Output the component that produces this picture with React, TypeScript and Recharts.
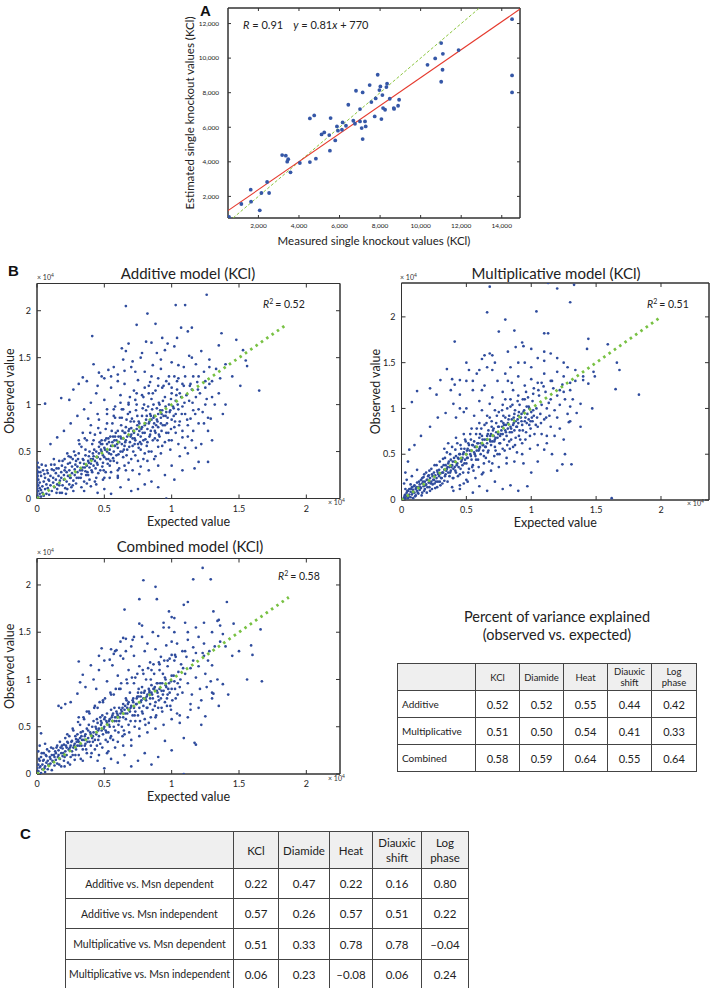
import React from 'react';
import { ScatterChart, Scatter, XAxis, YAxis, ReferenceArea } from 'recharts';

type Pair = [number, number];

const FONT = 'Lato, "Open Sans", "DejaVu Sans", sans-serif';
const AXIS = '#333';
const DOT = '#2f4c9d';
const GREEN = '#78c143';
const RED = '#e5392d';

// ---------- Panel A: measured vs estimated single knockout values ----------
const A_POINTS: Pair[] = [
  [550, 809], [1159, 1560], [1620, 2389], [1637, 1695], [2066, 1194], [2148, 2196], [2428, 2832], [2527, 2196],
  [3170, 4393], [3351, 4354], [3470, 4150], [3420, 4010], [3582, 3391], [4043, 3931], [4538, 6513], [4752, 6686],
  [4538, 3988], [4834, 4181], [5114, 5588], [5246, 5703], [5493, 5549], [5526, 4643], [5559, 6532], [5790, 5241],
  [5872, 6050], [5922, 5800], [6120, 5857], [6153, 6281], [6317, 6088], [6433, 7303], [6680, 6377], [6762, 6204],
  [6812, 8112], [7010, 7052], [7010, 6339], [7092, 5954], [7141, 5318], [7141, 8016], [7257, 6339], [7290, 6050],
  [7487, 8440], [7570, 7457], [7735, 6628], [7784, 7669], [7883, 9037], [7966, 8151], [8015, 8363], [8065, 6474],
  [8114, 7861], [8147, 7110], [8246, 7014], [8312, 8324], [8345, 8517], [8477, 7649], [8675, 7110], [8690, 7060],
  [8888, 7245], [8938, 7592], [10339, 9615], [10718, 9981], [11014, 10868], [11014, 8632], [11080, 9326],
  [11097, 10251], [11871, 10463], [14508, 12255], [14508, 8998], [14508, 8016],
];
const A_X_TICKS = [2000, 4000, 6000, 8000, 10000, 12000, 14000];
const A_Y_TICKS = [2000, 4000, 6000, 8000, 10000, 12000];
const A_X_DOMAIN: [number, number] = [500, 14900];
const A_Y_DOMAIN: [number, number] = [750, 12900];
const A_FIT = { slope: 0.81, intercept: 770, r: '0.91' };

// ---------- Panel B: observed vs expected (x 10^4) ----------
const B_TICKS = [0, 0.5, 1, 1.5, 2];

const ADDITIVE: Pair[] = [
  [0,0.01],[0,0.04],[0,0.07],[0,0.1],[0,0.13],[0,0.16],[0,0.19],[0,0.22],[0,0.26],[0,0.3],[0,0.34],[0.01,0.02],[0.01,0.08],[0.01,0.14],[0.01,0.2],[0.01,0.28],[0.02,0.05],[0.02,0.11],[0.02,0.17],[0.03,0.02],[0.03,0.09],[0.03,0.24],[0.04,0.13],[0.04,0.06],[0.05,0.18],[0.05,0.03],[0.06,0.1],[0.06,0.22],[0.07,0.05],[0.07,0.15],[0.08,0.27],[0.08,0.11],[0.09,0.19],[0.09,0.04],[0.1,0.14],[0.1,0.24],[0.11,0.08],[0.11,0.31],[0.12,0.17],[0.12,0.22],[0.13,0.12],[0.13,0.36],[0.14,0.2],[0.14,0.27],[0.15,0.1],[0.15,0.15],[0.16,0.24],[0.16,0.32],[0.17,0.19],[0.17,0.06],[0.18,0.28],[0.18,0.22],[0.19,0.14],[0.19,0.4],[0.2,0.25],[0.2,0.2],[0.21,0.33],[0.21,0.11],[0.22,0.28],[0.22,0.18],[0.23,0.37],[0.23,0.24],[0.24,0.15],[0.24,0.3],[0.25,0.22],[0.25,0.44],[0.26,0.27],[0.26,0.34],[0.27,0.19],[0.27,0.08],[0.28,0.31],[0.28,0.25],[0.29,0.4],[0.29,0.16],[0.3,0.28],
  [0.3,0.34],[0.31,0.22],[0.31,0.48],[0.32,0.3],[0.32,0.38],[0.33,0.26],[0.33,0.55],[0.34,0.33],[0.34,0.42],[0.35,0.18],[0.35,0.37],[0.36,0.29],[0.36,0.46],[0.37,0.35],[0.37,0.62],[0.38,0.4],[0.38,0.25],[0.39,0.33],[0.39,0.5],[0.4,0.42],[0.4,0.37],[0.41,0.28],[0.41,0.58],[0.42,0.45],[0.42,0.35],[0.43,0.4],[0.43,0.68],[0.44,0.5],[0.44,0.22],[0.45,0.44],[0.45,0.36],[0.46,0.55],[0.46,0.48],[0.47,0.3],[0.47,0.42],[0.48,0.62],[0.48,0.5],[0.49,0.38],[0.49,0.46],[0.5,0.54],[0.5,0.44],[0.51,0.74],[0.51,0.28],[0.52,0.5],[0.52,0.58],[0.53,0.42],[0.53,0.64],[0.54,0.52],[0.54,0.35],[0.55,0.56],[0.55,0.47],[0.56,0.8],[0.56,0.6],[0.57,0.5],[0.57,0.4],[0.58,0.66],[0.58,0.56],[0.59,0.46],[0.59,0.62],[0.6,0.54],[0.6,0.72],
  [0.61,0.6],[0.61,0.32],[0.62,0.66],[0.62,0.5],[0.63,0.58],[0.63,0.86],[0.64,0.64],[0.64,0.44],[0.65,0.7],[0.65,0.56],[0.66,0.62],[0.66,0.76],[0.67,0.52],[0.67,0.66],[0.68,0.72],[0.68,0.38],[0.69,0.6],[0.69,0.92],[0.7,0.68],[0.7,0.75],[0.71,0.56],[0.71,0.64],[0.72,0.82],[0.72,0.7],[0.73,0.46],[0.73,0.62],[0.74,0.74],[0.74,1.0],[0.75,0.68],[0.75,0.58],[0.76,0.8],[0.76,0.72],[0.77,0.52],[0.77,0.66],[0.78,0.88],[0.78,0.76],[0.79,0.62],[0.79,0.42],[0.8,0.78],[0.8,0.7],[0.81,0.94],[0.81,0.84],[0.82,0.6],[0.82,0.74],[0.83,0.8],[0.83,0.5],[0.84,0.9],[0.84,0.68],[0.85,0.84],[0.85,1.06],[0.86,0.76],[0.86,0.62],[0.87,0.88],[0.87,0.8],[0.88,0.7],[0.88,0.45],[0.89,0.96],[0.89,0.84],[0.9,0.76],[0.9,0.9],
  [0.91,0.66],[0.91,1.0],[0.92,0.86],[0.92,0.8],[0.93,0.94],[0.93,0.56],[0.94,0.88],[0.95,0.78],[0.95,1.08],[0.96,0.92],[0.96,0.7],[0.97,0.86],[0.98,1.0],[0.98,0.62],[0.99,0.94],[1.0,0.84],[1.0,1.12],[1.01,0.98],[1.02,0.76],[1.03,1.04],[1.03,0.9],[1.04,1.16],[1.05,0.95],[1.06,0.82],[1.07,1.08],[1.08,0.98],[1.09,1.2],[1.1,0.9],[1.11,1.1],[1.12,0.78],[1.13,1.04],[1.15,1.16],[1.16,0.94],[1.18,1.08],[1.19,1.24],[1.21,1.12],[1.23,0.92],[1.25,1.18],[1.26,1.06],[1.28,1.22],
  [0.33,0.12],[0.36,0.52],[0.39,0.2],[0.42,0.62],[0.44,0.15],[0.47,0.7],[0.5,0.22],[0.52,0.8],[0.55,0.28],[0.58,0.86],[0.6,0.3],[0.63,0.95],[0.65,0.35],[0.68,1.0],[0.7,0.42],[0.73,1.05],[0.75,0.4],[0.78,1.1],[0.8,0.48],[0.83,1.12],[0.85,0.5],[0.88,1.15],[0.9,0.55],[0.93,1.18],[0.95,0.6],[0.98,1.22],[1.0,0.62],[1.03,0.7],[1.05,1.28],[1.08,0.72],
  [0.345,0.41],[0.365,0.25],[0.385,0.45],[0.405,0.3],[0.425,0.52],[0.445,0.38],[0.465,0.6],[0.485,0.34],[0.505,0.62],[0.525,0.37],[0.545,0.66],[0.565,0.43],[0.585,0.7],[0.605,0.47],[0.625,0.78],[0.645,0.52],[0.665,0.84],[0.685,0.55],[0.705,0.85],[0.725,0.58],[0.745,0.88],[0.765,0.6],[0.785,0.96],[0.805,0.63],[0.825,0.98],[0.845,0.72],[0.865,1.0],[0.885,0.78],[0.905,1.02],[0.925,0.72],
  [0.215,0.05],[0.235,0.45],[0.255,0.12],[0.275,0.5],[0.295,0.22],[0.315,0.58],[0.335,0.3],[0.355,0.64],[0.375,0.28],[0.395,0.7],[0.415,0.48],[0.435,0.32],[0.455,0.75],[0.475,0.52],[0.495,0.3],[0.515,0.64],[0.535,0.48],[0.555,0.72],[0.575,0.62],[0.595,0.38],[0.615,0.86],[0.635,0.72],[0.655,0.6],[0.675,0.9],[0.695,0.66],[0.715,0.5],[0.735,0.94],[0.755,0.82],[0.775,0.58],[0.795,1.0],[0.815,0.88],[0.835,0.66],[0.855,0.95],[0.875,0.72],[0.895,0.62],[0.915,0.94],[0.935,0.78],[0.955,0.98],[0.975,0.7],[0.995,1.06],[1.015,0.88],[1.035,1.1],[1.055,0.78],[1.075,0.9],[1.095,1.02],[1.115,0.84],[1.135,1.2],[1.155,1.02],[1.175,0.9],[1.195,1.16],
  [0.005,0.38],[0.005,0.24],[0.015,0.33],[0.025,0.28],[0.035,0.36],[0.045,0.3],[0.055,0.26],[0.065,0.35],[0.075,0.3],[0.085,0.2],[0.105,0.36],[0.125,0.42],[0.145,0.32],[0.165,0.4],[0.185,0.35],[0.205,0.42],[0.225,0.48],[0.245,0.38],[0.265,0.42],[0.285,0.46],
  [0.31,0.62],[0.34,0.7],[0.37,0.16],[0.4,0.78],[0.43,0.18],[0.46,0.84],[0.49,0.2],[0.52,0.9],[0.54,0.22],[0.57,0.95],[0.6,0.24],[0.62,1.02],[0.66,0.3],[0.69,1.08],[0.71,0.3],[0.74,1.12],[0.77,0.34],[0.8,1.18],[0.82,0.4],[0.84,1.24],[0.87,0.42],[0.9,1.2],[0.92,0.48],[0.96,1.25],[0.99,0.52],[1.02,1.3],[1.05,0.58],[1.08,1.22],[1.12,0.66],[1.16,1.3],
  [0.475,0.58],[0.505,0.52],[0.535,0.6],[0.565,0.66],[0.595,0.58],[0.625,0.64],[0.655,0.7],[0.685,0.74],[0.715,0.72],[0.745,0.78],[0.775,0.74],[0.805,0.8],[0.835,0.82],[0.865,0.86],[0.895,0.82],[0.925,0.9],[0.955,0.88],[0.985,0.92],[1.015,0.96],[1.045,1.0],
  [0.455,0.27],[0.485,0.58],[0.515,0.42],[0.545,0.4],[0.575,0.56],[0.605,0.66],[0.635,0.5],[0.665,0.46],[0.695,0.82],[0.725,0.64],[0.755,0.54],[0.785,0.7],[0.815,0.56],[0.845,0.88],[0.875,0.64],[0.905,0.68],[0.935,1.04],[0.965,0.8],[0.995,0.74],[1.025,0.82],
  [0.125,0.3],[0.145,0.06],[0.165,0.14],[0.185,0.06],[0.205,0.3],[0.225,0.1],[0.245,0.22],[0.265,0.14],[0.285,0.36],[0.305,0.42],[0.325,0.22],[0.355,0.33],[0.385,0.38],[0.415,0.42],[0.445,0.44],
  [0.55,1.3],[0.6,1.25],[0.7,1.4],[0.8,1.35],[0.92,1.48],[1.05,1.42],[1.15,1.5],[0.45,1.2],[0.65,1.36],[0.85,1.3],[1.25,1.25],[1.32,1.0],[1.38,0.9],[1.2,0.8],[1.28,1.4],
  [1.26,2.17],[0.66,2.05],[1.03,2.06],[1.1,2.06],[0.82,1.97],[0.74,1.85],[0.88,1.86],[1.07,1.82],[1.15,1.82],[1.12,1.78],[0.41,1.73],[1.37,1.76],[1.48,1.69],[1.35,1.63],[0.81,1.67],[0.85,1.66],[0.93,1.71],[0.97,1.65],[1.02,1.62],[1.04,1.71],[0.63,1.6],[0.66,1.57],[0.68,1.65],[0.95,1.58],[0.78,1.55],[0.89,1.55],[1.13,1.52],[1.22,1.57],[1.28,1.48],[1.53,1.58],[1.55,1.47],[1.56,1.41],[0.42,1.43],[0.53,1.37],[0.57,1.4],[0.64,1.48],[0.71,1.46],[0.77,1.5],[0.73,1.35],[0.86,1.42],[0.92,1.38],[1.0,1.45],[1.09,1.4],[1.18,1.43],[1.24,1.35],[1.33,1.38],[1.4,1.43],[0.48,1.3],[0.6,1.32],[0.37,1.25],[0.5,1.28],[0.46,1.34],[0.34,1.29],[0.31,1.22],[0.27,1.16],[0.18,1.07],[0.06,1.01],[0.24,1.05],[1.51,1.2],[1.65,1.15],[1.4,1.0],[1.45,1.3],[1.3,1.25],[1.36,1.28],
  [0.35,0.95],[0.4,1.02],[0.44,1.12],[0.5,1.05],[0.55,1.18],[0.58,0.98],[0.62,1.1],[0.65,1.22],[0.68,1.02],[0.72,1.15],[0.75,1.26],[0.79,1.08],[0.83,1.2],[0.86,1.12],[0.9,1.28],[0.94,1.2],[0.98,1.3],[1.0,1.18],[1.04,1.25],[1.06,1.12],[1.1,1.3],[1.14,1.22],[1.2,1.3],[0.3,0.88],[0.25,0.8],[0.2,0.72],[0.15,0.65],[0.1,0.58],[0.38,0.85],[0.45,0.9],[0.52,0.95],[0.57,0.88],[0.64,0.95],
  [1.2,0.39],[1.27,0.39],[1.17,0.32],[1.27,0.72],[1.27,0.86],[1.29,0.85],[1.18,0.54],[1.1,0.54],[1.06,0.45],[0.96,0.0],[0.9,0.12],[0.85,0.18],[0.8,0.15],[0.75,0.1],[0.7,0.08],[0.62,0.12],[0.55,0.05],[0.5,0.1],[0.45,0.06],[0.4,0.13],[0.35,0.08],[0.95,0.25],[1.0,0.35],[1.02,0.2],[1.08,0.3],[0.9,0.35],[0.83,0.3],[0.76,0.26],[0.68,0.2],[0.6,0.22],[1.15,0.62],[1.22,0.58],[1.12,0.48],[1.3,0.62],[1.24,0.8],[1.16,0.72],[1.3,1.08],[1.35,1.12],[1.2,0.95],[1.25,1.0],[1.14,0.85],[1.08,0.65],
];

const MULTIPLICATIVE: Pair[] = [
  [0.01,0.0],[0.02,0.03],[0.02,0.01],[0.03,0.06],[0.03,0.02],[0.04,0.08],[0.04,0.04],[0.05,0.1],[0.05,0.02],[0.06,0.06],[0.06,0.12],[0.07,0.03],[0.07,0.09],[0.08,0.14],[0.08,0.06],[0.09,0.11],[0.09,0.02],[0.1,0.08],[0.1,0.16],[0.11,0.12],[0.11,0.05],[0.12,0.1],[0.12,0.19],[0.13,0.14],[0.13,0.07],[0.14,0.17],[0.14,0.11],[0.15,0.22],[0.15,0.13],[0.16,0.08],[0.16,0.18],[0.17,0.15],[0.17,0.25],[0.18,0.12],[0.18,0.2],[0.19,0.17],[0.19,0.3],[0.2,0.22],[0.2,0.14],[0.21,0.19],[0.21,0.27],[0.22,0.24],[0.22,0.1],[0.23,0.2],[0.23,0.34],[0.24,0.26],[0.24,0.17],[0.25,0.22],[0.25,0.3],[0.26,0.13],[0.26,0.27],[0.27,0.24],[0.27,0.38],[0.28,0.3],[0.28,0.2],[0.29,0.26],[0.29,0.33],[0.3,0.16],[0.3,0.29],[0.05,0.42],[0.03,0.3],[0.08,0.26],[0.12,0.33],
  [0.31,0.36],[0.31,0.24],[0.32,0.3],[0.32,0.45],[0.33,0.33],[0.33,0.21],[0.34,0.38],[0.34,0.28],[0.35,0.34],[0.35,0.52],[0.36,0.3],[0.36,0.4],[0.37,0.26],[0.37,0.36],[0.38,0.44],[0.38,0.32],[0.39,0.38],[0.39,0.58],[0.4,0.34],[0.4,0.24],[0.41,0.42],[0.41,0.36],[0.42,0.48],[0.42,0.3],[0.43,0.4],[0.43,0.62],[0.44,0.45],[0.44,0.36],[0.45,0.5],[0.45,0.28],[0.46,0.42],[0.46,0.56],[0.47,0.46],[0.47,0.38],[0.48,0.52],[0.48,0.18],[0.49,0.44],[0.49,0.66],[0.5,0.5],[0.5,0.4],[0.51,0.56],[0.51,0.46],[0.52,0.34],[0.52,0.6],[0.53,0.5],[0.53,0.72],[0.54,0.54],[0.54,0.44],[0.55,0.6],[0.55,0.38],[0.56,0.52],[0.56,0.64],[0.57,0.48],[0.57,0.58],[0.58,0.78],[0.58,0.54],[0.59,0.44],[0.59,0.62],[0.6,0.56],[0.6,0.68],
  [0.61,0.5],[0.61,0.62],[0.62,0.7],[0.62,0.28],[0.63,0.6],[0.63,0.54],[0.64,0.66],[0.64,0.82],[0.65,0.58],[0.65,0.46],[0.66,0.7],[0.66,0.62],[0.67,0.76],[0.67,0.54],[0.68,0.66],[0.68,0.9],[0.69,0.6],[0.69,0.72],[0.7,0.4],[0.7,0.64],[0.71,0.78],[0.71,0.7],[0.72,0.58],[0.72,0.66],[0.73,0.84],[0.73,0.74],[0.74,0.5],[0.74,0.68],[0.75,0.8],[0.75,0.96],[0.76,0.7],[0.76,0.62],[0.77,0.76],[0.77,0.86],[0.78,0.56],[0.78,0.72],[0.79,0.82],[0.79,0.66],[0.8,0.9],[0.8,0.76],[0.81,0.46],[0.81,0.7],[0.82,0.84],[0.82,0.78],[0.83,0.92],[0.83,0.64],[0.84,0.8],[0.84,1.02],[0.85,0.74],[0.85,0.88],[0.86,0.58],[0.86,0.82],[0.87,0.94],[0.87,0.76],[0.88,0.86],[0.88,0.68],[0.89,0.8],[0.89,0.52],[0.9,0.92],[0.9,0.84],
  [0.91,1.04],[0.91,0.76],[0.92,0.9],[0.93,0.82],[0.93,0.62],[0.94,0.96],[0.95,0.86],[0.95,1.1],[0.96,0.74],[0.97,0.94],[0.98,0.88],[0.98,1.02],[0.99,0.7],[1.0,0.96],[1.01,1.08],[1.01,0.86],[1.02,0.92],[1.04,1.0],[1.05,0.8],[1.06,1.14],[1.07,0.94],[1.08,1.04],[1.1,0.88],[1.11,1.18],[1.12,1.0],[1.14,0.92],[1.15,1.1],[1.17,1.22],[1.18,0.98],[1.2,1.14],[1.22,1.04],[1.24,1.26],[1.26,1.1],[1.28,0.94],[1.3,1.2],
  [0.155,0.05],[0.175,0.28],[0.195,0.08],[0.215,0.32],[0.235,0.12],[0.255,0.38],[0.275,0.14],[0.295,0.42],[0.315,0.18],[0.335,0.46],[0.355,0.2],[0.375,0.5],[0.395,0.24],[0.415,0.55],[0.435,0.26],[0.455,0.6],[0.475,0.3],[0.495,0.64],[0.515,0.3],[0.535,0.66],[0.555,0.32],[0.575,0.72],[0.595,0.36],[0.615,0.78],[0.635,0.4],[0.655,0.84],[0.675,0.42],[0.695,0.86],[0.715,0.48],[0.735,0.92],[0.755,0.5],[0.775,0.98],[0.795,0.54],[0.815,1.0],[0.835,0.56],[0.855,1.04],[0.875,0.6],[0.895,1.08],[0.915,0.66],[0.935,1.1],[0.955,0.66],[0.975,1.12],[0.995,0.78],[1.015,1.16],[1.035,0.82],[1.055,1.2],[1.075,0.84],[1.095,1.24],[1.115,0.9],[1.135,1.06],
  [0.325,0.38],[0.345,0.32],[0.365,0.42],[0.385,0.36],[0.405,0.46],[0.425,0.38],[0.445,0.5],[0.465,0.44],[0.485,0.56],[0.505,0.46],[0.525,0.54],[0.545,0.6],[0.565,0.5],[0.585,0.62],[0.605,0.58],[0.625,0.66],[0.645,0.58],[0.665,0.72],[0.685,0.64],[0.705,0.76],[0.725,0.68],[0.745,0.8],[0.765,0.72],[0.785,0.84],[0.805,0.74],[0.825,0.88],[0.845,0.78],[0.865,0.9],[0.885,0.8],[0.905,0.96],[0.925,0.86],[0.945,0.98],[0.965,0.84],[0.985,1.0],[1.005,0.9],
  [0.025,0.05],[0.045,0.1],[0.055,0.04],[0.075,0.12],[0.085,0.08],[0.095,0.15],[0.105,0.04],[0.115,0.14],[0.125,0.08],[0.135,0.2],[0.145,0.14],[0.165,0.2],[0.185,0.16],[0.205,0.26],[0.225,0.18],[0.245,0.22],[0.265,0.2],[0.285,0.28],[0.305,0.24],[0.02,0.18],[0.04,0.22],[0.07,0.17],[0.03,0.12],
  [0.33,0.56],[0.36,0.62],[0.39,0.14],[0.42,0.68],[0.45,0.16],[0.48,0.72],[0.51,0.2],[0.54,0.78],[0.57,0.24],[0.6,0.84],[0.63,0.3],[0.66,0.92],[0.69,0.32],[0.72,0.98],[0.75,0.36],[0.78,1.04],[0.81,0.4],[0.84,1.1],[0.87,0.42],[0.9,1.14],[0.93,0.5],[0.96,1.18],[0.99,0.56],[1.02,1.22],[1.05,0.6],[1.08,1.28],[1.12,0.7],[1.16,1.3],[1.2,0.9],[1.25,1.18],
  [0.475,0.5],[0.505,0.54],[0.535,0.48],[0.565,0.58],[0.595,0.54],[0.625,0.6],[0.655,0.66],[0.685,0.7],[0.715,0.64],[0.745,0.72],[0.775,0.8],[0.805,0.82],[0.835,0.74],[0.865,0.84],[0.895,0.88],[0.925,0.94],[0.955,0.9],[0.985,0.82],[1.015,0.98],[1.045,0.9],
  [0.455,0.34],[0.485,0.4],[0.515,0.62],[0.545,0.36],[0.575,0.44],[0.605,0.72],[0.635,0.48],[0.665,0.52],[0.695,0.8],[0.725,0.54],[0.755,0.62],[0.785,0.92],[0.815,0.6],[0.845,0.66],[0.875,0.98],[0.905,0.7],[0.935,0.76],[0.965,1.02],[0.995,0.86],[1.025,0.72],
  [0.175,0.1],[0.195,0.22],[0.215,0.14],[0.235,0.28],[0.255,0.18],[0.275,0.32],[0.295,0.2],[0.315,0.3],[0.335,0.26],[0.355,0.36],[0.375,0.3],[0.395,0.42],[0.415,0.32],[0.435,0.46],[0.16,0.24],
  [0.55,1.3],[0.62,1.2],[0.7,1.42],[0.8,1.38],[0.9,1.5],[1.0,1.45],[1.1,1.52],[0.45,1.0],[0.6,1.42],[0.85,1.28],[1.22,1.2],[1.32,1.1],[1.38,0.8],[1.26,0.5],[1.34,1.3],
  [0.28,0.9],[0.22,0.8],[0.15,0.7],[0.1,0.6],[0.06,0.55],[0.34,0.95],[0.4,1.05],[0.45,1.15],[0.5,1.0],[0.55,1.2],[0.6,1.08],[0.64,1.25],[0.7,1.12],[0.74,1.3],[0.78,1.18],[0.82,1.3],[0.86,1.2],[0.9,1.35],[0.95,1.25],[1.0,1.32],[1.05,1.28],[1.1,1.38],[1.15,1.3],[1.2,1.4],[0.42,0.9],[0.48,0.96],[0.56,0.92],[0.62,0.98],[0.68,1.05],[0.8,1.1],[1.25,1.35],[1.3,1.28],[0.38,1.2],[0.5,1.3],[0.58,1.38],[0.66,1.45],[0.72,1.5],[0.84,1.45],[0.95,1.5],[1.05,1.55],[1.15,1.6],[1.25,1.5],[1.34,1.42],[1.4,1.35],
  [1.31,0.39],[1.24,0.39],[1.2,0.32],[1.29,0.85],[1.3,0.86],[1.16,0.5],[1.1,0.55],[1.05,0.42],[0.97,0.15],[1.62,0.02],[0.9,0.1],[0.84,0.16],[0.78,0.12],[0.72,0.2],[0.66,0.1],[0.6,0.15],[0.55,0.08],[0.5,0.22],[0.45,0.12],[0.4,0.1],[1.0,0.3],[0.94,0.4],[1.12,0.62],[1.18,0.7],[1.22,0.78],[1.35,0.95],[1.38,1.05],[1.3,1.02],[1.25,0.66],[1.15,0.8],[1.08,0.72],
  [0.68,2.33],[1.13,2.37],[1.2,2.31],[1.33,2.35],[1.3,2.16],[0.66,2.05],[1.04,2.06],[0.8,1.97],[0.75,1.84],[0.87,1.85],[0.41,1.73],[1.1,1.82],[1.13,1.82],[1.44,1.76],[1.59,1.7],[1.43,1.65],[0.93,1.72],[0.94,1.68],[0.88,1.67],[0.82,1.62],[0.68,1.6],[0.7,1.58],[0.64,1.58],[0.62,1.54],[0.5,1.5],[0.52,1.42],[0.35,1.43],[0.41,1.26],[0.45,1.31],[0.39,1.32],[0.22,1.22],[0.12,1.19],[0.27,1.15],[0.3,1.31],[0.08,1.07],[1.66,1.5],[1.68,1.42],[1.65,1.21],[1.83,1.15],[1.47,1.0],[1.49,1.35],[1.48,1.4],[1.44,1.27],[1.4,1.31],[1.0,1.65],[1.1,1.62],[1.2,1.55],[1.28,1.45],
];

const COMBINED: Pair[] = [
  [0,0.02],[0,0.06],[0.01,0.1],[0.01,0.03],[0.02,0.14],[0.02,0.07],[0.03,0.18],[0.03,0.01],[0.04,0.1],[0.04,0.05],[0.05,0.15],[0.05,0.22],[0.06,0.08],[0.06,0.02],[0.07,0.12],[0.07,0.19],[0.08,0.05],[0.08,0.14],[0.09,0.24],[0.09,0.09],[0.1,0.16],[0.1,0.11],[0.11,0.2],[0.11,0.04],[0.12,0.13],[0.12,0.27],[0.13,0.18],[0.13,0.09],[0.14,0.22],[0.14,0.15],[0.15,0.3],[0.15,0.11],[0.16,0.2],[0.16,0.25],[0.17,0.16],[0.17,0.34],[0.18,0.22],[0.18,0.08],[0.19,0.27],[0.19,0.19],[0.2,0.31],[0.2,0.14],[0.21,0.24],[0.21,0.38],[0.22,0.2],[0.22,0.28],[0.23,0.33],[0.23,0.12],[0.24,0.25],[0.24,0.4],[0.25,0.3],[0.25,0.18],[0.26,0.35],[0.26,0.24],[0.27,0.28],[0.27,0.46],[0.28,0.32],[0.28,0.15],[0.29,0.37],[0.29,0.26],[0.3,0.3],[0.3,0.42],[0.03,0.43],[0.06,0.32],
  [0.31,0.34],[0.31,0.2],[0.32,0.38],[0.32,0.52],[0.33,0.3],[0.33,0.4],[0.34,0.26],[0.34,0.45],[0.35,0.36],[0.35,0.58],[0.36,0.32],[0.36,0.42],[0.37,0.48],[0.37,0.22],[0.38,0.38],[0.38,0.46],[0.39,0.34],[0.39,0.64],[0.4,0.42],[0.4,0.3],[0.41,0.5],[0.41,0.38],[0.42,0.44],[0.42,0.56],[0.43,0.36],[0.43,0.26],[0.44,0.48],[0.44,0.42],[0.45,0.54],[0.45,0.7],[0.46,0.4],[0.46,0.48],[0.47,0.6],[0.47,0.32],[0.48,0.46],[0.48,0.54],[0.49,0.42],[0.49,0.76],[0.5,0.5],[0.5,0.58],[0.51,0.36],[0.51,0.46],[0.52,0.64],[0.52,0.54],[0.53,0.44],[0.53,0.24],[0.54,0.58],[0.54,0.5],[0.55,0.68],[0.55,0.4],[0.56,0.56],[0.56,0.62],[0.57,0.84],[0.57,0.5],[0.58,0.6],[0.58,0.46],[0.59,0.66],[0.59,0.56],[0.6,0.34],[0.6,0.62],
  [0.61,0.7],[0.61,0.56],[0.62,0.64],[0.62,0.9],[0.63,0.5],[0.63,0.66],[0.64,0.74],[0.64,0.6],[0.65,0.42],[0.65,0.68],[0.66,0.58],[0.66,0.8],[0.67,0.7],[0.67,0.64],[0.68,0.52],[0.68,0.76],[0.69,0.66],[0.69,0.86],[0.7,0.72],[0.7,0.3],[0.71,0.62],[0.71,0.78],[0.72,0.7],[0.72,0.96],[0.73,0.66],[0.73,0.56],[0.74,0.8],[0.74,0.74],[0.75,0.62],[0.75,0.86],[0.76,0.7],[0.76,0.48],[0.77,0.82],[0.77,0.76],[0.78,0.92],[0.78,0.66],[0.79,0.8],[0.79,0.72],[0.8,0.58],[0.8,0.88],[0.81,0.78],[0.81,1.0],[0.82,0.7],[0.82,0.84],[0.83,0.9],[0.83,0.54],[0.84,0.8],[0.84,0.74],[0.85,0.94],[0.85,0.86],[0.86,0.68],[0.86,0.8],[0.87,1.06],[0.87,0.9],[0.88,0.76],[0.88,0.6],[0.89,0.88],[0.89,0.96],[0.9,0.82],[0.9,0.7],
  [0.91,0.9],[0.91,1.1],[0.92,0.8],[0.93,0.96],[0.93,0.66],[0.94,0.88],[0.95,1.02],[0.95,0.76],[0.96,0.92],[0.97,1.14],[0.97,0.84],[0.98,0.96],[0.99,0.72],[1.0,1.04],[1.0,0.9],[1.02,1.2],[1.02,0.98],[1.03,0.8],[1.05,1.08],[1.06,0.92],[1.07,1.16],[1.08,0.86],[1.1,1.06],[1.11,1.24],[1.12,0.96],[1.14,1.12],[1.15,0.84],[1.16,1.2],[1.18,1.02],[1.2,1.14],[1.21,0.9],[1.23,1.28],[1.25,1.06],[1.27,1.2],[1.29,0.98],
  [0.205,0.08],[0.225,0.42],[0.245,0.1],[0.265,0.48],[0.285,0.2],[0.305,0.55],[0.325,0.16],[0.345,0.6],[0.365,0.26],[0.385,0.66],[0.405,0.22],[0.425,0.7],[0.445,0.3],[0.465,0.76],[0.485,0.28],[0.505,0.8],[0.525,0.34],[0.545,0.86],[0.565,0.36],[0.585,0.9],[0.605,0.44],[0.625,0.96],[0.645,0.46],[0.665,1.0],[0.685,0.44],[0.705,1.02],[0.725,0.5],[0.745,1.06],[0.765,0.56],[0.785,1.1],[0.805,0.52],[0.825,1.12],[0.845,0.6],[0.865,1.16],[0.885,0.62],[0.905,1.18],[0.925,0.7],[0.945,1.2],[0.965,0.72],[0.985,1.22],[1.005,0.78],[1.025,1.26],[1.045,0.84],[1.065,1.0],[1.085,1.12],
  [0.315,0.3],[0.335,0.36],[0.355,0.4],[0.375,0.34],[0.395,0.44],[0.415,0.4],[0.435,0.5],[0.455,0.46],[0.475,0.52],[0.495,0.48],[0.515,0.56],[0.535,0.52],[0.555,0.6],[0.575,0.56],[0.595,0.64],[0.615,0.6],[0.635,0.7],[0.655,0.64],[0.675,0.74],[0.695,0.7],[0.715,0.8],[0.735,0.74],[0.755,0.82],[0.775,0.78],[0.795,0.86],[0.815,0.82],[0.835,0.88],[0.855,0.84],[0.875,0.92],[0.895,0.86],[0.915,0.96],[0.935,0.84],[0.955,0.94],[0.975,0.9],[0.995,0.98],
  [0.015,0.16],[0.025,0.08],[0.035,0.22],[0.045,0.14],[0.055,0.06],[0.065,0.2],[0.075,0.26],[0.085,0.1],[0.095,0.18],[0.105,0.28],[0.115,0.14],[0.135,0.24],[0.155,0.18],[0.175,0.28],[0.195,0.22],[0.215,0.3],[0.235,0.26],[0.255,0.34],[0.275,0.3],[0.295,0.34],[0.01,0.24],[0.02,0.3],
  [0.31,0.6],[0.34,0.14],[0.37,0.66],[0.4,0.18],[0.43,0.72],[0.46,0.2],[0.49,0.78],[0.52,0.22],[0.55,0.84],[0.58,0.28],[0.61,0.9],[0.64,0.3],[0.67,0.96],[0.7,0.36],[0.73,1.02],[0.76,0.4],[0.79,1.06],[0.82,0.44],[0.85,1.1],[0.88,0.48],[0.91,1.16],[0.94,0.52],[0.97,1.2],[1.0,0.58],[1.03,1.24],[1.06,0.62],[1.1,1.3],[1.14,0.68],[1.18,1.28],[1.22,0.78],
  [0.475,0.56],[0.505,0.6],[0.535,0.56],[0.565,0.64],[0.595,0.6],[0.625,0.68],[0.655,0.72],[0.685,0.68],[0.715,0.76],[0.745,0.82],[0.775,0.86],[0.805,0.8],[0.835,0.86],[0.865,0.9],[0.895,0.96],[0.925,0.88],[0.955,1.0],[0.985,0.86],[1.015,1.04],[1.045,0.96],
  [0.455,0.36],[0.485,0.62],[0.515,0.44],[0.545,0.38],[0.575,0.7],[0.605,0.52],[0.635,0.4],[0.665,0.78],[0.695,0.56],[0.725,0.62],[0.755,0.9],[0.785,0.64],[0.815,0.7],[0.845,1.0],[0.875,0.72],[0.905,0.78],[0.935,1.06],[0.965,0.8],[0.995,0.68],[1.025,0.9],
  [0.125,0.2],[0.145,0.28],[0.165,0.1],[0.185,0.3],[0.205,0.18],[0.225,0.34],[0.245,0.28],[0.265,0.2],[0.285,0.4],[0.305,0.36],[0.325,0.44],[0.355,0.3],[0.385,0.52],[0.415,0.34],[0.445,0.58],
  [0.55,1.32],[0.62,1.25],[0.72,1.45],[0.82,1.38],[0.9,1.46],[1.0,1.4],[1.12,1.5],[0.46,1.25],[0.66,1.3],[0.98,1.55],[1.24,1.25],[1.3,1.15],[1.38,0.95],[1.22,0.52],[1.32,1.35],
  [0.3,0.85],[0.25,0.76],[0.18,0.7],[0.21,0.74],[0.16,0.72],[0.36,0.92],[0.42,1.0],[0.46,1.1],[0.52,0.98],[0.56,1.15],[0.6,1.04],[0.64,1.22],[0.68,1.1],[0.72,1.25],[0.76,1.14],[0.8,1.3],[0.84,1.18],[0.88,1.32],[0.92,1.24],[0.96,1.36],[1.0,1.26],[1.04,1.38],[1.08,1.3],[1.12,1.42],[1.16,1.34],[1.2,1.45],[1.24,1.38],[1.28,1.3],[0.44,0.9],[0.5,1.2],[0.58,1.3],[0.62,1.4],[0.7,1.35],[0.78,1.45],[0.86,1.5],[0.94,1.55],[1.02,1.5],[1.1,1.6],[1.18,1.55],[1.3,1.5],[1.36,1.4],[1.34,1.62],[0.4,1.15],[0.34,1.05],
  [1.17,0.33],[1.18,0.31],[1.09,0.0],[1.25,0.61],[1.35,0.72],[1.42,0.84],[1.09,0.38],[1.06,0.54],[1.0,0.25],[0.95,0.35],[0.9,0.18],[0.85,0.1],[0.8,0.22],[0.75,0.14],[0.7,0.08],[0.65,0.2],[0.6,0.12],[0.55,0.16],[0.5,0.06],[0.45,0.14],[1.12,0.6],[1.2,0.7],[1.3,0.8],[1.26,0.92],[1.34,1.0],[1.14,0.74],[1.04,0.64],[1.3,0.86],[1.31,0.85],
  [1.23,2.18],[0.79,2.05],[1.16,2.06],[1.29,2.06],[0.88,1.98],[0.76,1.85],[0.89,1.85],[1.09,1.79],[1.12,1.82],[1.41,1.82],[0.65,1.74],[1.31,1.72],[0.98,1.72],[1.0,1.66],[0.94,1.6],[1.02,1.65],[1.46,1.59],[1.66,1.53],[1.35,1.63],[1.36,1.57],[0.76,1.59],[0.78,1.57],[0.64,1.44],[0.66,1.43],[0.71,1.42],[0.48,1.33],[0.57,1.27],[0.59,1.31],[0.54,1.21],[0.31,1.19],[0.32,0.97],[1.59,1.36],[1.6,1.26],[1.56,1.0],[1.67,0.98],[1.45,1.25],[1.4,1.35],[1.5,1.3],[1.38,1.48],[1.24,1.6],
];

// ---------- Tables ----------
const VARIANCE_COLS = ['KCl', 'Diamide', 'Heat', 'Diauxic shift', 'Log phase'];
const VARIANCE_ROWS = ['Additive', 'Multiplicative', 'Combined'];
const VARIANCE_VALUES = [
  ['0.52', '0.52', '0.55', '0.44', '0.42'],
  ['0.51', '0.50', '0.54', '0.41', '0.33'],
  ['0.58', '0.59', '0.64', '0.55', '0.64'],
];
const C_ROWS = [
  'Additive vs. Msn dependent',
  'Additive vs. Msn independent',
  'Multiplicative vs. Msn dependent',
  'Multiplicative vs. Msn independent',
];
const C_VALUES = [
  ['0.22', '0.47', '0.22', '0.16', '0.80'],
  ['0.57', '0.26', '0.57', '0.51', '0.22'],
  ['0.51', '0.33', '0.78', '0.78', '–0.04'],
  ['0.06', '0.23', '–0.08', '0.06', '0.24'],
];

const toPts = (a: Pair[]) => a.map(([x, y]) => ({ x, y }));
const blank = () => <g />;

function Dot(r: number, fill: string) {
  return (p: any) => <circle cx={p.cx} cy={p.cy} r={r} fill={fill} />;
}

const fmtB = (v: number) => String(v);
const fmtA = (v: number) => v.toLocaleString('en-US');
const noText = () => '';

function PanelA() {
  const fit = [A_X_DOMAIN[0], A_X_DOMAIN[1]].map((x) => ({ x, y: A_FIT.slope * x + A_FIT.intercept }));
  const identity = [{ x: A_Y_DOMAIN[0], y: A_Y_DOMAIN[0] }, { x: A_Y_DOMAIN[1], y: A_Y_DOMAIN[1] }];
  const tick = { fontSize: 6.5, fill: '#222', fontFamily: FONT };
  const labelStyle = { fontSize: 11.5, fill: '#222', fontFamily: FONT };
  return (
    <div style={{ position: 'absolute', left: 150, top: 0 }}>
      <ScatterChart width={380} height={260} margin={{ top: 7, right: 9, bottom: 12, left: 0 }}>
        <XAxis type="number" dataKey="x" domain={A_X_DOMAIN} ticks={A_X_TICKS} interval={0} allowDataOverflow
          tickFormatter={fmtA} tickSize={-3} tickMargin={8} tick={tick} height={30}
          axisLine={{ stroke: AXIS }} tickLine={{ stroke: AXIS }}
          label={{ value: 'Measured single knockout values (KCl)', position: 'insideBottom', offset: 3, style: labelStyle }} />
        <YAxis type="number" dataKey="y" domain={A_Y_DOMAIN} ticks={A_Y_TICKS} interval={0} allowDataOverflow
          tickFormatter={fmtA} tickSize={-3} tickMargin={12} tick={tick} width={78}
          axisLine={{ stroke: AXIS }} tickLine={{ stroke: AXIS }}
          label={{ value: 'Estimated single knockout values (KCl)', angle: -90, position: 'insideLeft', offset: 40, style: { ...labelStyle, textAnchor: 'middle' } }} />
        <XAxis xAxisId="top" orientation="top" type="number" dataKey="x" domain={A_X_DOMAIN} ticks={A_X_TICKS} interval={0}
          allowDataOverflow tickFormatter={noText} tickSize={-3} height={1} axisLine={{ stroke: AXIS }} tickLine={{ stroke: AXIS }} />
        <YAxis yAxisId="right" orientation="right" type="number" dataKey="y" domain={A_Y_DOMAIN} ticks={A_Y_TICKS} interval={0}
          allowDataOverflow tickFormatter={noText} tickSize={-3} width={1} axisLine={{ stroke: AXIS }} tickLine={{ stroke: AXIS }} />
        <ReferenceArea x1={A_X_DOMAIN[0]} x2={A_X_DOMAIN[1]} y1={A_Y_DOMAIN[0]} y2={A_Y_DOMAIN[1]} fill="none" stroke={AXIS} strokeWidth={1} />
        <Scatter data={identity} shape={blank} line={{ stroke: '#8cc63f', strokeWidth: 1, strokeDasharray: '3 2' }} isAnimationActive={false} />
        <Scatter data={fit} shape={blank} line={{ stroke: RED, strokeWidth: 1.1 }} isAnimationActive={false} />
        <Scatter data={toPts(A_POINTS)} shape={Dot(1.9, '#3557a7')} isAnimationActive={false} />
      </ScatterChart>
    </div>
  );
}

type ModelProps = {
  left: number; top: number; width: number; height: number;
  mt: number; mr: number; mb: number; yw: number; xh: number;
  xMax: number; yMax: number; points: Pair[]; diagEnd: number;
  yLabelOffset: number; xLabelOffset: number;
};

function ModelPanel(p: ModelProps) {
  const tick = { fontSize: 9, fill: '#222', fontFamily: FONT };
  const labelStyle = { fontSize: 12.5, fill: '#222', fontFamily: FONT };
  const diag = [{ x: 0, y: 0 }, { x: p.diagEnd, y: p.diagEnd }];
  const xDom: [number, number] = [0, p.xMax];
  const yDom: [number, number] = [0, p.yMax];
  return (
    <div style={{ position: 'absolute', left: p.left, top: p.top }}>
      <ScatterChart width={p.width} height={p.height} margin={{ top: p.mt, right: p.mr, bottom: p.mb, left: 0 }}>
        <XAxis type="number" dataKey="x" domain={xDom} ticks={B_TICKS} interval={0} allowDataOverflow
          tickFormatter={fmtB} tickSize={-4} tickMargin={11} tick={tick} height={p.xh}
          axisLine={{ stroke: AXIS }} tickLine={{ stroke: AXIS }}
          label={{ value: 'Expected value', position: 'insideBottom', offset: p.xLabelOffset, style: labelStyle }} />
        <YAxis type="number" dataKey="y" domain={yDom} ticks={B_TICKS} interval={0} allowDataOverflow
          tickFormatter={fmtB} tickSize={-4} tickMargin={10} tick={tick} width={p.yw}
          axisLine={{ stroke: AXIS }} tickLine={{ stroke: AXIS }}
          label={{ value: 'Observed value', angle: -90, position: 'insideLeft', offset: p.yLabelOffset, style: { ...labelStyle, textAnchor: 'middle' } }} />
        <XAxis xAxisId="top" orientation="top" type="number" dataKey="x" domain={xDom} ticks={B_TICKS} interval={0}
          allowDataOverflow tickFormatter={noText} tickSize={-4} height={1} axisLine={{ stroke: AXIS }} tickLine={{ stroke: AXIS }} />
        <YAxis yAxisId="right" orientation="right" type="number" dataKey="y" domain={yDom} ticks={B_TICKS} interval={0}
          allowDataOverflow tickFormatter={noText} tickSize={-4} width={1} axisLine={{ stroke: AXIS }} tickLine={{ stroke: AXIS }} />
        <ReferenceArea x1={0} x2={p.xMax} y1={0} y2={p.yMax} fill="none" stroke={AXIS} strokeWidth={1} />
        <Scatter data={toPts(p.points)} shape={Dot(1.35, DOT)} isAnimationActive={false} />
        <Scatter data={diag} shape={blank} line={{ stroke: GREEN, strokeWidth: 2.8, strokeDasharray: '2.5 4' }} isAnimationActive={false} />
      </ScatterChart>
    </div>
  );
}

const cellBase: React.CSSProperties = { border: '1px solid #444', padding: 0, boxSizing: 'border-box' };

function VarianceTable() {
  const widths = [78, 44, 44, 44, 44, 45];
  return (
    <table style={{ position: 'absolute', left: 397, top: 663, borderCollapse: 'collapse', tableLayout: 'fixed', width: 299, fontFamily: FONT, color: '#222' }}>
      <colgroup>{widths.map((w, i) => <col key={i} style={{ width: w }} />)}</colgroup>
      <tbody>
        <tr style={{ height: 27, background: '#efefef' }}>
          <td style={cellBase} />
          {VARIANCE_COLS.map((c) => (
            <td key={c} style={{ ...cellBase, textAlign: 'center', fontSize: 9.5, lineHeight: '11px' }}>
              {c.split(' ').map((w, i) => <div key={i}>{w}</div>)}
            </td>
          ))}
        </tr>
        {VARIANCE_ROWS.map((r, ri) => (
          <tr key={r} style={{ height: 27 }}>
            <td style={{ ...cellBase, fontSize: 10, paddingLeft: 4, whiteSpace: 'nowrap' }}>{r}</td>
            {VARIANCE_VALUES[ri].map((v, i) => (
              <td key={i} style={{ ...cellBase, textAlign: 'center', fontSize: 11 }}>{v}</td>
            ))}
          </tr>
        ))}
      </tbody>
    </table>
  );
}

function CTable() {
  const widths = [168, 45, 51, 43, 49, 47];
  const heights = [30, 30, 31, 29];
  return (
    <table style={{ position: 'absolute', left: 65, top: 831, borderCollapse: 'collapse', tableLayout: 'fixed', width: 403, fontFamily: FONT, color: '#222' }}>
      <colgroup>{widths.map((w, i) => <col key={i} style={{ width: w }} />)}</colgroup>
      <tbody>
        <tr style={{ height: 37, background: '#efefef' }}>
          <td style={cellBase} />
          {VARIANCE_COLS.map((c) => (
            <td key={c} style={{ ...cellBase, textAlign: 'center', fontSize: 11.5, lineHeight: '15px' }}>
              {c.split(' ').map((w, i) => <div key={i}>{w}</div>)}
            </td>
          ))}
        </tr>
        {C_ROWS.map((r, ri) => (
          <tr key={r} style={{ height: heights[ri] }}>
            <td style={{ ...cellBase, textAlign: 'center', fontSize: 10.5, whiteSpace: 'nowrap' }}>{r}</td>
            {C_VALUES[ri].map((v, i) => (
              <td key={i} style={{ ...cellBase, textAlign: 'center', fontSize: 11.5 }}>{v}</td>
            ))}
          </tr>
        ))}
      </tbody>
    </table>
  );
}

function Times10({ x, y }: { x: number; y: number }) {
  return (
    <text x={x} y={y} fontSize={7} fill="#333">
      × 10<tspan dy={-3} fontSize={5}>4</tspan>
    </text>
  );
}

function R2({ x, y, v }: { x: number; y: number; v: string }) {
  return (
    <text x={x} y={y} fontSize={10.5} fill="#222">
      <tspan fontStyle="italic">R</tspan>
      <tspan dy={-4} fontSize={7}>2</tspan>
      <tspan dy={4} dx={2}>= {v}</tspan>
    </text>
  );
}

export default function App() {
  const letter = { fontFamily: '"Liberation Sans", Arial, sans-serif', fontWeight: 700, fontSize: 15, fill: '#111' } as const;
  return (
    <div style={{ position: 'absolute', left: 0, top: 0, width: 712, height: 988, background: '#fff', overflow: 'hidden' }}>
      <PanelA />
      <ModelPanel left={0} top={276} width={345} height={262} mt={6.5} mr={4} mb={12.5} yw={37} xh={27}
        xMax={2.25} yMax={2.29} points={ADDITIVE} diagEnd={1.86} yLabelOffset={10} xLabelOffset={0} />
      <ModelPanel left={365} top={276} width={347} height={264} mt={6} mr={2} mb={13} yw={36.5} xh={27}
        xMax={2.37} yMax={2.37} points={MULTIPLICATIVE} diagEnd={2} yLabelOffset={11} xLabelOffset={0} />
      <ModelPanel left={0} top={551} width={345} height={262} mt={6.5} mr={4} mb={13} yw={37} xh={26}
        xMax={2.25} yMax={2.28} points={COMBINED} diagEnd={1.87} yLabelOffset={9.5} xLabelOffset={-1} />
      <VarianceTable />
      <CTable />
      <svg width={712} height={988} style={{ position: 'absolute', left: 0, top: 0, pointerEvents: 'none' }} fontFamily={FONT}>
        <text x={200} y={16} {...letter}>A</text>
        <text x={8} y={276} {...letter}>B</text>
        <text x={20} y={839} {...letter}>C</text>
        <text x={243} y={29} fontSize={11} fill="#222">
          <tspan fontStyle="italic">R</tspan> = {A_FIT.r}
          <tspan dx={10} fontStyle="italic">y</tspan> = {A_FIT.slope}<tspan fontStyle="italic">x</tspan> + {A_FIT.intercept}
        </text>
        <text x={188} y={279} textAnchor="middle" fontSize={15} fill="#222">Additive model (KCl)</text>
        <text x={556} y={279} textAnchor="middle" fontSize={15} fill="#222">Multiplicative model (KCl)</text>
        <text x={190} y={552} textAnchor="middle" fontSize={15} fill="#222">Combined model (KCl)</text>
        <R2 x={263} y={308} v="0.52" />
        <R2 x={647} y={308} v="0.51" />
        <R2 x={278} y={580} v="0.58" />
        <Times10 x={37} y={280} />
        <Times10 x={328} y={505} />
        <Times10 x={400} y={280} />
        <Times10 x={687} y={506} />
        <Times10 x={37} y={555} />
        <Times10 x={328} y={781} />
        <text x={557} y={622} textAnchor="middle" fontSize={14.5} fill="#222">Percent of variance explained</text>
        <text x={557} y={640} textAnchor="middle" fontSize={14.5} fill="#222">(observed vs. expected)</text>
      </svg>
    </div>
  );
}
